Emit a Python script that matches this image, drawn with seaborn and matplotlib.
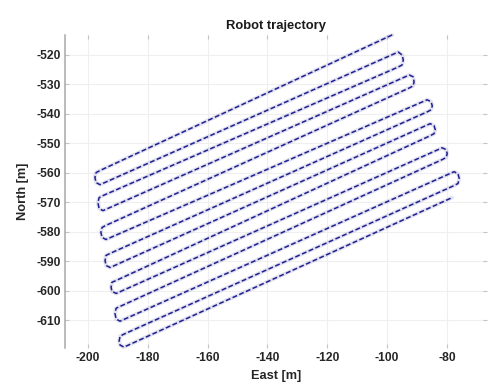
import matplotlib
matplotlib.use("Agg")
import matplotlib.pyplot as plt
import seaborn as sns
import pandas as pd

# Waypoints of the survey path (East, North in metres), in driving order:
# start at the top-right, then alternating left / right U-turns.
east_m = [
    -98.3,
    -196.0, -197.3, -197.7, -197.3, -196.0,   # left turn 1
    -96.3, -95.0, -94.6, -95.0, -96.3,        # right turn 1
    -195.0, -196.3, -196.7, -196.3, -195.0,   # left turn 2
    -92.6, -91.3, -91.0, -91.3, -92.6,        # right turn 2
    -194.0, -195.3, -195.7, -195.3, -194.0,   # left turn 3
    -86.6, -85.3, -84.9, -85.3, -86.6,        # right turn 3
    -192.6, -194.0, -194.3, -194.0, -192.6,   # left turn 4
    -85.6, -84.3, -83.9, -84.3, -85.6,        # right turn 4
    -190.6, -192.0, -192.3, -192.0, -190.6,   # left turn 5
    -81.6, -80.3, -79.9, -80.3, -81.6,        # right turn 5
    -189.3, -190.6, -191.0, -190.6, -189.3,   # left turn 6
    -77.6, -76.3, -75.9, -76.3, -77.6,        # right turn 6
    -188.0, -189.3, -189.6, -189.3, -188.0,   # left turn 7
    -78.3,
]
north_m = [
    -513.2,
    -559.2, -559.9, -561.6, -563.3, -564.0,
    -519.0, -520.0, -521.7, -523.4, -524.1,
    -567.7, -568.4, -570.1, -572.1, -572.8,
    -526.8, -527.4, -529.1, -530.5, -531.2,
    -577.8, -578.5, -580.2, -581.9, -582.6,
    -535.2, -535.9, -537.3, -538.6, -539.3,
    -587.3, -588.0, -589.7, -591.4, -592.1,
    -543.3, -544.0, -545.4, -546.7, -547.4,
    -596.5, -597.1, -598.8, -600.2, -600.9,
    -551.5, -552.1, -553.5, -554.8, -555.5,
    -605.3, -605.9, -607.6, -609.6, -610.3,
    -559.6, -560.3, -561.9, -563.6, -564.3,
    -614.7, -615.4, -617.1, -618.4, -619.1,
    -568.4,
]

x_ticks = [-200, -180, -160, -140, -120, -100, -80]
y_ticks = [-520, -530, -540, -550, -560, -570, -580, -590, -600, -610]

sns.set_theme(style="whitegrid")
plt.rcParams["font.family"] = ["Liberation Sans", "DejaVu Sans"]

track = pd.DataFrame({"East": east_m, "North": north_m})

fig = plt.figure(figsize=(4.88, 3.85), dpi=100)
ax = fig.add_axes([0.1332, 0.0961, 0.8648, 0.8117])
ax.set_facecolor("white")

path_color = "#1f1f8f"
# soft envelope that gives the track its slightly ragged width
sns.lineplot(data=track, x="East", y="North", sort=False, estimator=None,
             ax=ax, color=path_color, linewidth=2.8, alpha=0.13)
sns.lineplot(data=track, x="East", y="North", sort=False,
             estimator=None, ax=ax, color=path_color, linewidth=1.1)
ax.lines[-1].set_dashes([3.2, 1.6])
for ln in ax.lines:
    ln.set_clip_on(False)

ax.set_xlim(-207.7, -66.6)
ax.set_ylim(-619.4, -513.4)
ax.set_xticks(x_ticks)
ax.set_yticks(y_ticks)
ax.set_xticklabels([str(v) for v in x_ticks])
ax.set_yticklabels([str(v) for v in y_ticks])

ax.grid(True, color="#efefef", linewidth=0.8)
for side in ["top", "right", "bottom"]:
    ax.spines[side].set_visible(False)
ax.spines["left"].set_color("#a8a8a8")
ax.spines["left"].set_linewidth(1.1)

ax.tick_params(axis="both", which="both", direction="in", length=3,
               width=0.8, color="#c4c4c4", labelsize=8.7, labelcolor="#262626",
               top=True, bottom=True, left=True, right=True, pad=3)
for lab in ax.get_xticklabels() + ax.get_yticklabels():
    lab.set_fontweight("bold")

ax.set_title("Robot trajectory", fontsize=9.4, fontweight="bold",
             color="#1a1a1a", pad=5)
ax.set_xlabel("East [m]", fontsize=9.2, fontweight="bold", color="#262626",
              labelpad=4)
ax.set_ylabel("North [m]", fontsize=9.2, fontweight="bold", color="#262626",
              labelpad=5)

fig.savefig("out.png", dpi=100, facecolor="white")
